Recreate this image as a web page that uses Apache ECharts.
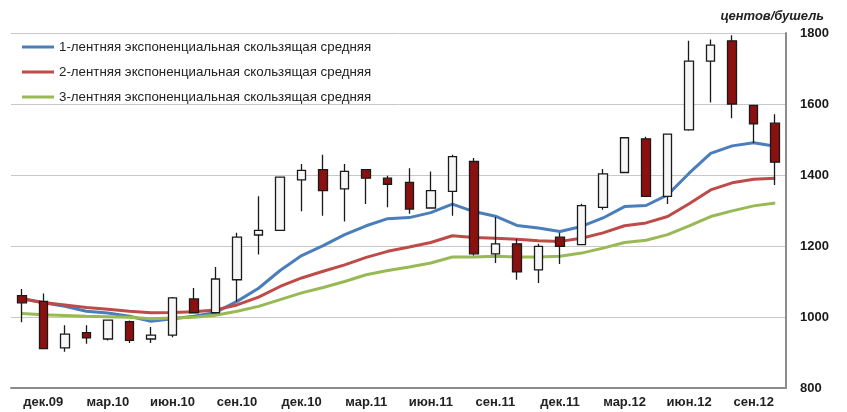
<!DOCTYPE html>
<html>
<head>
<meta charset="utf-8">
<script src="https://cdn.jsdelivr.net/npm/echarts@6/dist/echarts.min.js"></script>
<style>html,body{margin:0;padding:0;background:#fff}#c{width:847px;height:412px}</style>
</head>
<body>
<div id="c"></div>
<script>
const months = ['ноя.09','дек.09','янв.10','фев.10','мар.10','апр.10','май.10','июн.10','июл.10','авг.10','сен.10','окт.10','ноя.10','дек.10','янв.11','фев.11','мар.11','апр.11','май.11','июн.11','июл.11','авг.11','сен.11','окт.11','ноя.11','дек.11','янв.12','фев.12','мар.12','апр.12','май.12','июн.12','июл.12','авг.12','сен.12','окт.12'];
const openV  = [1060,1044,913,956,938,987,938,949,1051,1012,1105,1231,1244,1386,1415,1361,1415,1391,1379,1307,1354,1438,1178,1206,1133,1225,1204,1309,1407,1502,1340,1527,1721,1778,1596,1546];
const closeV = [1040,911,952,941,991,934,949,1054,1012,1107,1225,1244,1394,1413,1356,1410,1391,1374,1304,1356,1452,1178,1206,1127,1199,1199,1314,1403,1505,1340,1515,1721,1766,1600,1544,1436];
const lowV   = [985,909,902,925,934,927,927,943,1010,1010,1044,1176,1242,1298,1285,1269,1318,1309,1291,1305,1285,1173,1152,1105,1096,1149,1202,1302,1405,1338,1318,1525,1604,1560,1490,1372];
const highV  = [1079,1066,977,977,993,990,972,1056,1082,1141,1237,1340,1396,1431,1457,1431,1417,1398,1419,1410,1457,1448,1282,1220,1206,1237,1319,1417,1507,1508,1517,1778,1782,1794,1598,1571];
const ema1 = [1051,1040,1030,1016,1011,1002,988,995,1002,1013,1044,1081,1131,1173,1201,1232,1257,1277,1280,1294,1318,1297,1284,1258,1251,1241,1255,1279,1311,1314,1344,1405,1461,1482,1491,1481];
const ema2 = [1052,1041,1034,1027,1022,1016,1012,1013,1015,1020,1034,1056,1086,1110,1129,1147,1168,1185,1197,1210,1229,1224,1222,1219,1215,1213,1222,1237,1257,1265,1283,1319,1358,1378,1388,1391];
const ema3 = [1010,1006,1004,1002,1001,999,995,997,999,1005,1016,1030,1049,1068,1083,1100,1119,1131,1141,1152,1169,1169,1171,1169,1169,1171,1180,1194,1210,1216,1232,1257,1283,1299,1313,1321];
const seriesNames = ['1-лентняя экспоненциальная скользящая средняя','2-лентняя экспоненциальная скользящая средняя','3-лентняя экспоненциальная скользящая средняя'];
const yTicks = {min:800, max:1800, interval:200};
const unitLabel = 'центов/бушель';

const candles = openV.map((o,i)=>[o, closeV[i], lowV[i], highV[i]]);
const showIdx = (i)=> i % 3 === 1;
const font = 'Liberation Sans';

const chart = echarts.init(document.getElementById('c'));
chart.setOption({
  animation:false,
  textStyle:{fontFamily:font},
  title:{text:unitLabel, right:18, top:5, textStyle:{fontSize:13, fontStyle:'italic', fontWeight:'bold', color:'#222', fontFamily:font}},
  legend:{
    orient:'vertical', left:17, top:35, itemWidth:32, itemHeight:3, itemGap:11, icon:'rect',
    data:seriesNames,
    textStyle:{fontSize:13.3, color:'#222', fontFamily:font, lineHeight:14}
  },
  grid:{left:11, right:61, top:33, bottom:24},
  xAxis:{
    type:'category', data:months, boundaryGap:true,
    axisLine:{lineStyle:{color:'#8c8c8c', width:2}},
    axisTick:{interval:showIdx, alignWithLabel:true, length:4, lineStyle:{color:'#8c8c8c', width:2}},
    axisLabel:{interval:showIdx, fontSize:13, fontWeight:'bold', color:'#222', margin:8},
    splitLine:{show:false}
  },
  yAxis:{
    type:'value', position:'right', min:yTicks.min, max:yTicks.max, interval:yTicks.interval,
    axisLine:{show:true, lineStyle:{color:'#8c8c8c', width:2}},
    axisTick:{show:false},
    axisLabel:{fontSize:13, fontWeight:'bold', color:'#1a1a1a', margin:14, formatter:(v)=>String(v)},
    splitLine:{lineStyle:{color:'#c8c8c8', width:1}}
  },
  series:[
    {name:seriesNames[0], type:'line', data:ema1, symbol:'none', z:2, lineStyle:{color:'#4a7ebb', width:3}, itemStyle:{color:'#4a7ebb'}},
    {name:seriesNames[1], type:'line', data:ema2, symbol:'none', z:2, lineStyle:{color:'#be4b48', width:3}, itemStyle:{color:'#be4b48'}},
    {name:seriesNames[2], type:'line', data:ema3, symbol:'none', z:2, lineStyle:{color:'#98b954', width:3}, itemStyle:{color:'#98b954'}},
    {type:'candlestick', data:candles, barWidth:9, z:5,
     itemStyle:{color:'#f7f7f7', color0:'#8b1010', borderColor:'#1a1a1a', borderColor0:'#1a1a1a', borderWidth:1.3}}
  ]
});
</script>
</body>
</html>
